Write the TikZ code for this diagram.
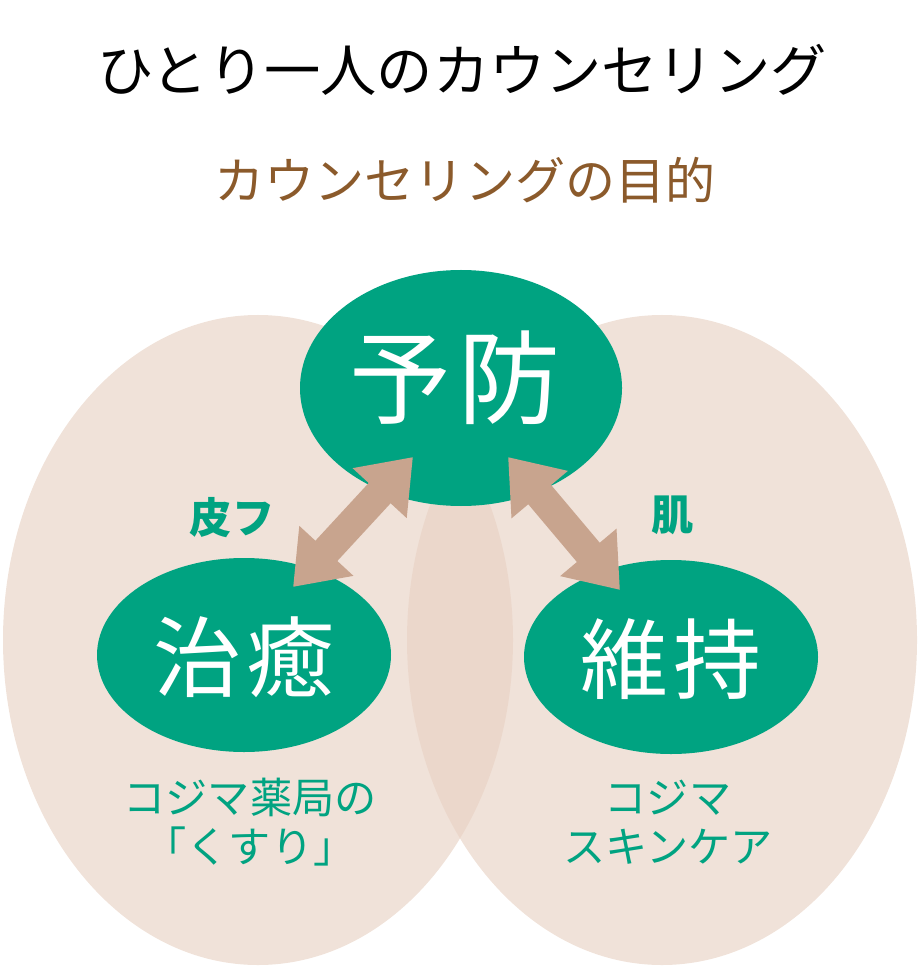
\documentclass[tikz,border=0pt]{standalone}
\usepackage{fontspec}
\setmainfont{Noto Sans CJK JP}
\usetikzlibrary{arrows.meta, backgrounds}
\definecolor{kgreen}{HTML}{00A381}
\definecolor{kbeige}{HTML}{E8D2C4}
\definecolor{karrow}{HTML}{C8A48E}
\definecolor{kbrown}{HTML}{8B5A2B}
\tikzset{
    goal/.style={text=white,font=\fontsize{58}{64}\selectfont},
    subgoal/.style={text=white,font=\fontsize{50}{56}\selectfont},
    note/.style={text=kgreen,font=\fontsize{24}{28}\selectfont,align=center},
    tag/.style={text=kgreen,font=\bfseries\fontsize{24}{28}\selectfont},
    link/.style={draw=karrow,line width=17pt,{Triangle[width=40pt,length=28pt]}-{Triangle[width=40pt,length=28pt]}},
}
\begin{document}
\begin{tikzpicture}[x=0.02cm,y=-0.02cm]
\useasboundingbox (0,0) rectangle (920,972);
% background ovals
\fill[kbeige,fill opacity=0.65] (258,640) ellipse [x radius=255,y radius=325];
\fill[kbeige,fill opacity=0.65] (662,640) ellipse [x radius=255,y radius=325];
% headings
\node (title) at (462,70) {\fontsize{32}{36}\selectfont ひとり一人のカウンセリング};
\node[text=kbrown] (sub) at (465,180) {\fontsize{28.5}{32}\selectfont カウンセリングの目的};
% goals
\fill[kgreen] (461,388) ellipse [x radius=161,y radius=118];
\fill[kgreen] (244,655) ellipse [x radius=147,y radius=97];
\fill[kgreen] (671,657) ellipse [x radius=147,y radius=97];
\node[goal] (prev) at (455,378) {予\hspace{4pt}防};
\node[subgoal] (cure) at (244,657) {治\hspace{3pt}癒};
\node[subgoal] (keep) at (671,659) {維\hspace{3pt}持};
% arrows
\coordinate (pl) at (413,457);
\coordinate (cl) at (293,587);
\coordinate (pr) at (508,457);
\coordinate (kr) at (620,590);
\draw[link] (pl) -- (cl);
\draw[link] (pr) -- (kr);
\node[tag] (skin) at (232,518) {皮フ};
\node[tag] (hada) at (673,515) {肌};
% notes
\node[note] (kusuri) at (250,822) {コジマ薬局の\\「くすり」};
\node[note] (care) at (668,822) {コジマ\\スキンケア};
\end{tikzpicture}
\end{document}
